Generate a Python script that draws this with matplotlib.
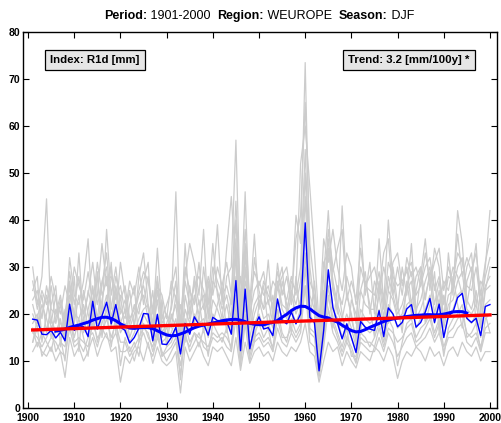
import numpy as np
import matplotlib
matplotlib.use("Agg")
import matplotlib.pyplot as plt

YEARS = np.arange(1901, 2001)

# regional mean index (blue)
MEAN = [18.9, 18.7, 15.7, 15.6, 16.5, 14.9, 16.1, 14.3, 22.1, 16.5,
        17.5, 17.3, 15.2, 22.7, 16.8, 19.6, 22.5, 17.9, 22.0, 17.2,
        16.5, 13.8, 15.0, 17.0, 20.1, 20.0, 14.3, 19.9, 13.6, 13.5,
        15.0, 17.2, 11.5, 18.0, 15.7, 19.4, 17.7, 17.9, 15.5, 19.3,
        18.6, 18.6, 18.5, 15.7, 27.1, 12.2, 25.3, 12.6, 17.2, 19.4,
        16.8, 17.1, 15.4, 23.2, 18.6, 17.9, 20.4, 17.9, 20.0, 39.4,
        19.3, 18.2, 7.9, 16.5, 29.4, 21.4, 18.0, 14.7, 17.9, 15.0,
        11.8, 18.4, 17.2, 16.8, 16.5, 20.7, 15.2, 21.3, 20.0, 17.3,
        18.2, 21.1, 22.0, 17.2, 18.2, 20.4, 23.3, 18.2, 22.1, 15.0,
        19.6, 20.4, 23.5, 24.4, 19.1, 18.2, 19.1, 15.4, 21.6, 22.0]

# station series (grey)
ST1 = [30, 22, 28, 44.5, 18, 24, 16, 20, 27, 19,
       33, 18, 25, 21, 28, 20, 38, 24, 30, 21,
       19, 25, 17, 28, 33, 22, 18, 34, 20, 15,
       22, 46, 14, 35, 20, 27, 18, 30, 22, 35,
       24, 19, 28, 30, 57, 20, 46, 18, 32, 25,
       21, 31.5, 19, 30.8, 24, 28, 22, 41, 35, 73.5,
       30, 22, 14, 28, 42, 26, 20, 43, 25, 19,
       15, 39, 24, 31, 20, 36, 22, 40, 27, 21,
       30, 24, 35, 20, 28, 36, 25, 34, 30, 18,
       33, 24, 42, 35, 22, 28, 35, 20, 30, 42]
ST2 = [25, 28, 14, 20, 26, 18, 22, 17, 32, 24,
       22, 27, 36, 19, 24, 35, 26, 30, 20, 31,
       24, 18, 22, 20, 27, 31, 15, 25, 18, 20,
       17, 24, 18, 28, 35, 30.8, 24, 38, 19, 26,
       39, 22, 34, 45, 30, 17, 27, 22, 37, 21,
       27, 24, 22, 26, 30, 20, 27, 25, 52, 60,
       47, 33, 18, 36, 31, 38, 30, 25, 33, 30,
       22, 25, 29, 20, 27, 24, 30, 25, 31, 33,
       26, 30, 22, 28, 30, 23, 29, 26, 22, 27,
       25, 30, 28, 24, 30, 33, 22, 27, 25, 30]
ST3 = [12, 14, 12, 11, 13, 10, 12, 6.5, 15, 11,
       13, 10, 12, 15, 11, 14, 16, 12, 13, 5.5,
       11, 9.5, 12, 13, 10, 14, 9.5, 13, 10, 9,
       10, 12, 3.2, 13, 10, 12, 14, 11, 9, 13,
       12, 13, 11, 9, 15, 8, 14, 9.5, 12, 13,
       11, 12, 10, 14, 12, 11, 13, 12, 14, 18,
       12, 11, 5.5, 10, 14, 12, 13, 9, 12, 10,
       8.5, 12, 11, 10, 13, 12, 10, 13, 11, 6.3,
       10, 12, 11, 13, 12, 10, 13, 11, 12, 9,
       12, 13, 11, 14, 12, 11, 13, 10, 12, 12]
ST4 = [20, 17, 22, 19, 15, 21, 18, 16, 24, 20,
       19, 22, 17, 26, 18, 23, 28, 19, 25, 18,
       21, 15, 18, 22, 24, 19, 16, 23, 15, 17,
       19, 22, 13, 21, 18, 24, 20, 22, 16, 23,
       21, 18, 22, 17, 33, 14, 30, 15, 20, 23,
       19, 20, 17, 26, 21, 19, 24, 20, 23, 45,
       22, 20, 9, 19, 34, 25, 21, 17, 20, 17,
       13, 21, 19, 18, 19, 24, 17, 25, 23, 19,
       20, 25, 27, 19, 21, 24, 28, 20, 25, 17,
       22, 23, 27, 29, 21, 20, 22, 17, 25, 26]
ST5 = [16, 15, 13, 15, 17, 12, 14, 13, 19, 14,
       15, 14, 13, 18, 15, 16, 19, 15, 18, 14,
       14, 11, 13, 15, 17, 16, 12, 16, 11, 12,
       13, 15, 9, 15, 13, 16, 15, 14, 13, 16,
       15, 16, 15, 13, 22, 10, 20, 11, 15, 16,
       14, 15, 13, 19, 15, 15, 17, 15, 17, 30,
       16, 15, 7, 14, 24, 18, 15, 12, 15, 13,
       10, 15, 14, 14, 13, 17, 13, 17, 16, 14,
       15, 17, 18, 14, 15, 17, 19, 15, 18, 13,
       16, 17, 19, 20, 16, 15, 16, 13, 17, 18]
ST6 = [23, 25, 19, 26, 21, 20, 24, 18, 29, 22,
       28, 20, 24, 31, 22, 26, 33, 21, 28, 23,
       26, 19, 21, 25, 29, 27, 20, 28, 19, 22,
       25, 30, 16, 27, 22, 26, 28, 25, 20, 30,
       27, 24, 26, 22, 40, 19, 35, 20, 25, 27,
       24, 26, 21, 29, 25, 23, 28, 24, 30, 55,
       27, 24, 12, 23, 38, 30, 25, 22, 28, 24,
       18, 30, 26, 25, 24, 29, 21, 31, 28, 26,
       27, 29, 31, 24, 26, 30, 32, 25, 28, 22,
       28, 27, 33, 31, 26, 25, 30, 22, 28, 32]
ST7 = [18, 20, 16, 17, 19, 16, 19, 14, 21, 17,
       17, 19, 15, 22, 17, 20, 24, 18, 22, 16,
       18, 14, 16, 19, 21, 22, 14, 20, 14, 15,
       16, 19, 11, 19, 16, 20, 18, 19, 15, 20,
       18, 19, 19, 16, 28, 12, 25, 13, 18, 20,
       17, 18, 15, 23, 19, 18, 21, 18, 21, 38,
       20, 18, 8, 17, 29, 21, 19, 15, 18, 15,
       12, 19, 17, 16, 17, 21, 15, 22, 20, 17,
       18, 22, 23, 17, 19, 21, 24, 18, 23, 15,
       20, 21, 24, 25, 19, 18, 20, 15, 22, 23]
ST8 = [14, 19, 24, 16, 22, 26, 13, 21, 17, 28,
       12, 25, 20, 17, 29, 15, 22, 31, 16, 24,
       16, 22, 26, 14, 20, 18, 25, 15, 23, 13,
       20, 17, 22, 14, 26, 18, 23, 16, 27, 18,
       22, 26, 16, 24, 19, 28, 17, 25, 14, 22,
       26, 17, 24, 18, 27, 22, 16, 28, 19, 26,
       18, 27, 15, 25, 21, 17, 26, 20, 14, 23,
       20, 16, 27, 22, 15, 26, 24, 18, 30, 22,
       16, 27, 20, 25, 30, 18, 22, 29, 16, 24,
       19, 28, 22, 17, 27, 30, 18, 25, 20, 16]
ST9 = [22, 18, 20, 24, 17, 19, 23, 15, 26, 18,
       24, 16, 21, 25, 19, 27, 30, 17, 26, 20,
       23, 17, 20, 24, 26, 21, 17, 27, 16, 18,
       21, 27, 12, 24, 19, 28, 22, 24, 17, 27,
       25, 21, 24, 19, 36, 15, 33, 17, 22, 24,
       21, 23, 18, 27, 22, 21, 25, 22, 27, 50,
       24, 21, 10, 21, 36, 27, 22, 19, 24, 20,
       14, 25, 22, 21, 21, 27, 19, 28, 24, 20,
       22, 26, 29, 21, 23, 27, 30, 22, 27, 19,
       24, 25, 30, 32, 23, 21, 25, 18, 26, 28]
ST10 = [14, 17, 11, 13, 15, 14, 12, 11, 17, 13,
        14, 12, 15, 16, 13, 17, 15, 14, 16, 12,
        12, 13, 10, 14, 16, 13, 11, 15, 12, 10,
        12, 14, 7, 16, 12, 14, 16, 13, 12, 15,
        14, 15, 13, 12, 19, 9, 18, 10, 14, 15,
        13, 14, 12, 17, 14, 13, 16, 14, 16, 26,
        14, 13, 6.5, 13, 21, 16, 14, 11, 14, 12,
        9.5, 14, 13, 12, 12, 15, 12, 16, 14, 11,
        13, 15, 16, 13, 14, 15, 17, 14, 16, 12,
        15, 15, 17, 18, 14, 13, 15, 12, 16, 16]
ST11 = [27, 21, 25, 22, 28, 23, 20, 26, 22, 30,
        26, 23, 29, 22, 31, 24, 27, 28, 23, 26,
        20, 27, 24, 30, 22, 28, 21, 26, 24, 19,
        27, 23, 19, 30, 25, 22, 31, 21, 28, 24,
        30, 26, 31, 24, 44, 22, 38, 23, 29, 26,
        29, 22, 27, 25, 28, 30, 23, 36, 41, 65,
        35, 26, 16, 31, 33, 29, 34, 38, 23, 27,
        23, 34, 26, 28, 30, 25, 33, 36, 24, 30,
        24, 32, 28, 30, 26, 33, 27, 31, 34, 25,
        30, 26, 37, 28, 32, 29, 33, 24, 31, 36]
ST12 = [17, 13, 16, 14, 12, 17, 15, 10, 20, 15,
        19, 15, 11, 20, 14, 18, 21, 13, 20, 9,
        15, 12, 14, 11, 18, 15, 13, 17, 11, 13,
        14, 17, 6, 18, 14, 16, 13, 17, 11, 18,
        16, 14, 17, 12, 24, 11, 22, 12, 16, 18,
        15, 17, 12, 21, 16, 14, 19, 16, 18, 33,
        17, 16, 7, 15, 26, 19, 16, 13, 17, 11,
        11, 16, 15, 13, 15, 18, 14, 19, 17, 9,
        14, 18, 19, 15, 17, 18, 20, 16, 19, 11,
        17, 19, 20, 22, 15, 16, 18, 12, 19, 20]
STATIONS = [ST1, ST2, ST3, ST4, ST5, ST6, ST7, ST8, ST9, ST10, ST11, ST12]

# linear trend end points
TREND_YEARS = [1901, 2000]
TREND_VALS = [16.6, 19.8]

plt.rcParams["font.family"] = ["Liberation Sans", "DejaVu Sans"]

fig = plt.figure(figsize=(5.02, 4.23), dpi=100)
ax = fig.add_axes([0.0458, 0.0355, 0.944, 0.8888])

for st in STATIONS:
    ax.plot(YEARS, st, color="#cccccc", lw=0.9, zorder=1)

ax.plot(YEARS, MEAN, color="#0000ff", lw=1.0, zorder=3)

# gaussian smoothing of the regional mean
k = np.arange(-5, 6)
w = np.exp(-0.5 * (k / 2.5) ** 2)
w /= w.sum()
smooth = np.convolve(MEAN, w, mode="valid")
ax.plot(YEARS[5:-5], smooth, color="#0000ff", lw=2.2, zorder=4)

ax.plot(TREND_YEARS, TREND_VALS, color="#ff0000", lw=2.4, zorder=5)

ax.set_xlim(1898.9, 2001.5)
ax.set_ylim(0, 80)
ax.set_xticks(np.arange(1900, 2001, 10))
ax.set_yticks(np.arange(0, 81, 10))
ax.tick_params(direction="in", top=True, right=True, length=4, width=0.8,
               labelsize=7.5, pad=2)
ax.tick_params(axis="x", pad=3.5)
for lab in ax.get_xticklabels() + ax.get_yticklabels():
    lab.set_fontweight("bold")
for sp in ax.spines.values():
    sp.set_linewidth(1.0)

box = dict(boxstyle="square,pad=0.45", facecolor="#e6e6e6", edgecolor="black", lw=0.9)
ax.text(0.058, 0.925, "Index: R1d [mm]", transform=ax.transAxes, fontsize=8.2,
        fontweight="bold", ha="left", va="center", bbox=box, zorder=6)
ax.text(0.942, 0.925, "Trend: 3.2 [mm/100y] *", transform=ax.transAxes, fontsize=8.2,
        fontweight="bold", ha="right", va="center", bbox=box, zorder=6)

# title with bold labels
parts = [("Period:", "bold"), (" 1901-2000  ", "normal"), ("Region:", "bold"),
         (" WEUROPE  ", "normal"), ("Season:", "bold"), (" DJF", "normal")]
t = fig.text(0.207, 0.955, parts[0][0], fontsize=9, fontweight=parts[0][1],
             ha="left", va="baseline")
for txt, wt in parts[1:]:
    t = ax.annotate(txt, xy=(1, 0), xycoords=t, fontsize=9, fontweight=wt,
                    ha="left", va="bottom", annotation_clip=False)

fig.savefig("out.png", dpi=100)
